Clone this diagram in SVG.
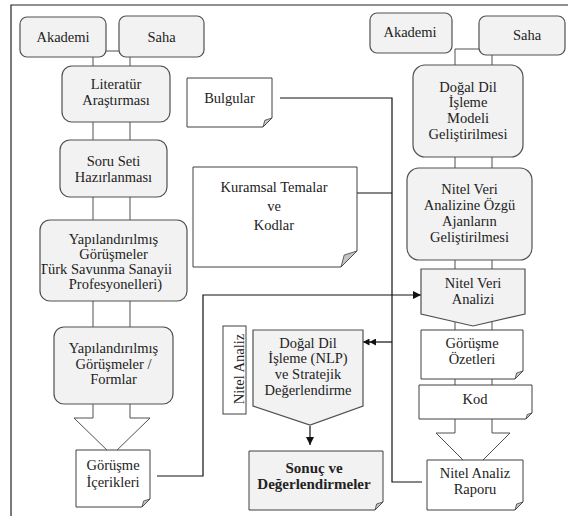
<svg xmlns="http://www.w3.org/2000/svg" width="568" height="516" viewBox="0 0 568 516">
  <defs>
    <style>
      .rb { fill: #f2f2f2; stroke: #505050; stroke-width: 1.2; }
      .doc { fill: #ffffff; stroke: #404040; stroke-width: 1; }
      .docg { fill: #f2f2f2; stroke: #404040; stroke-width: 1; }
      .fold { fill: #c4c4c4; stroke: #404040; stroke-width: 0.8; stroke-linejoin: round; }
      .blk { fill: #ffffff; stroke: #505050; stroke-width: 1; }
      .ln { fill: none; stroke: #111111; stroke-width: 1.2; }
      .frame { fill: none; stroke: #222222; stroke-width: 1.2; }
      text { font-size: 14.5px; fill: #222222; text-anchor: middle; }
      .b { font-weight: bold; font-size: 15px; }
    </style>
    <marker id="tri" viewBox="0 0 8 8" refX="8" refY="4" markerWidth="8" markerHeight="8" markerUnits="userSpaceOnUse" orient="auto">
      <path d="M0,0 L8,4 L0,8 Z" fill="#111111"/>
    </marker>
    <marker id="dbl" viewBox="0 0 13 7" refX="13" refY="3.5" markerWidth="13" markerHeight="7" markerUnits="userSpaceOnUse" orient="auto">
      <path d="M0,0 L6.5,3.5 L0,7 Z M6.5,0 L13,3.5 L6.5,7 Z" fill="#111111"/>
    </marker>
    <clipPath id="clipYapi">
      <rect x="41.5" y="221" width="144" height="79"/>
    </clipPath>
  </defs>

  <rect width="568" height="516" fill="#ffffff"/>
  <path class="frame" d="M11,520 V5 H570"/>

  <!-- connectors: block arrows behind the two columns, then flow lines -->
  <g id="connectors">
    <path class="blk" d="M93,51 H130 V418 H150 L112,455 L74,418 H93 Z"/>
    <path class="blk" d="M455,49 H492 V433 H510 L473,470 L436,433 H455 Z"/>
    <path class="ln" d="M157,476 H203 V295 H421" marker-end="url(#tri)"/>
    <path class="ln" d="M280,98 H392 V482 H422"/>
    <path class="ln" d="M357,193 H392"/>
    <path class="ln" d="M392,342 H363" marker-end="url(#dbl)"/>
    <path class="ln" d="M310,426 V445" marker-end="url(#tri)"/>
  </g>

  <g font-family="'Liberation Serif', 'DejaVu Serif', 'Times New Roman', serif">
  <!-- left column -->
  <g id="akademi-left">
    <rect class="rb" x="20" y="17" width="86" height="40" rx="7"/>
    <text x="63" y="42">Akademi</text>
  </g>
  <g id="saha-left">
    <rect class="rb" x="119" y="16" width="85" height="41" rx="7"/>
    <text x="161.5" y="42">Saha</text>
  </g>
  <g id="literatur">
    <rect class="rb" x="62" y="66" width="108" height="56" rx="10"/>
    <text x="116" y="89">Literatür</text>
    <text x="116" y="105">Araştırması</text>
  </g>
  <g id="soru-seti">
    <rect class="rb" x="60" y="140" width="107" height="57" rx="10"/>
    <text x="113.5" y="166">Soru Seti</text>
    <text x="113.5" y="182">Hazırlanması</text>
  </g>
  <g id="yapilandirilmis-gorusmeler">
    <rect class="rb" x="40" y="220" width="147" height="81" rx="10"/>
    <text x="113.5" y="244">Yapılandırılmış</text>
    <text x="113.5" y="259">Görüşmeler</text>
    <text x="172" y="274" style="text-anchor:end" clip-path="url(#clipYapi)">(Türk Savunma Sanayii</text>
    <text x="115.5" y="289">Profesyonelleri)</text>
  </g>
  <g id="gorusmeler-formlar">
    <rect class="rb" x="54" y="327" width="119" height="77" rx="10"/>
    <text x="113.5" y="353">Yapılandırılmış</text>
    <text x="113.5" y="369">Görüşmeler /</text>
    <text x="113.5" y="384">Formlar</text>
  </g>
  <g id="gorusme-icerikleri">
    <path class="doc" d="M76,450 H150 V499 L142,507 H76 Z"/>
    <path class="fold" d="M150,499 L142,507 L143.6,501 Z"/>
    <text x="113" y="470">Görüşme</text>
    <text x="113" y="487">İçerikleri</text>
  </g>

  <!-- middle -->
  <g id="bulgular">
    <path class="doc" d="M187,78 H272 V118 L263,127 H187 Z"/>
    <path class="fold" d="M272,118 L263,127 L264.8,120.3 Z"/>
    <text x="229.5" y="103">Bulgular</text>
  </g>
  <g id="kuramsal-temalar">
    <path class="doc" d="M193,167 H357 V251 L341,267 H193 Z"/>
    <path class="fold" d="M357,251 L341,267 L344.2,255 Z"/>
    <text x="274" y="192">Kuramsal Temalar</text>
    <text x="274" y="211">ve</text>
    <text x="274" y="230">Kodlar</text>
  </g>
  <g id="nitel-analiz-etiket">
    <rect x="223" y="326" width="23" height="88" fill="#ffffff" stroke="#404040" stroke-width="1"/>
    <text transform="translate(244,369) rotate(-90)">Nitel Analiz</text>
  </g>
  <g id="nlp-degerlendirme">
    <path class="rb" d="M253,330 H363 V406 L310,425 L253,406 Z"/>
    <text x="308" y="348">Doğal Dil</text>
    <text x="308" y="363">İşleme (NLP)</text>
    <text x="308" y="379">ve Stratejik</text>
    <text x="308" y="395">Değerlendirme</text>
  </g>
  <g id="sonuc">
    <path class="docg" d="M249,451 H383 V502 L375,510 H249 Z"/>
    <path class="fold" d="M383,502 L375,510 L376.6,504 Z"/>
    <text class="b" x="314" y="473">Sonuç ve</text>
    <text class="b" x="314" y="489">Değerlendirmeler</text>
  </g>

  <!-- right column -->
  <g id="akademi-right">
    <rect class="rb" x="370" y="13" width="82" height="40" rx="7"/>
    <text x="410" y="37">Akademi</text>
  </g>
  <g id="saha-right">
    <rect class="rb" x="479" y="16" width="86" height="39" rx="7"/>
    <text x="527" y="40">Saha</text>
  </g>
  <g id="dogal-dil-modeli">
    <rect class="rb" x="413" y="65" width="110" height="92" rx="12"/>
    <text x="468" y="92">Doğal Dil</text>
    <text x="468" y="107">İşleme</text>
    <text x="468" y="123">Modeli</text>
    <text x="468" y="139">Geliştirilmesi</text>
  </g>
  <g id="ajanlar">
    <rect class="rb" x="407" y="168" width="125" height="92" rx="12"/>
    <text x="469.5" y="194">Nitel Veri</text>
    <text x="469.5" y="210">Analizine Özgü</text>
    <text x="469.5" y="226">Ajanların</text>
    <text x="469.5" y="242">Geliştirilmesi</text>
  </g>
  <g id="nitel-veri-analizi">
    <path class="rb" d="M421,269 H525 V314 L473,326 L421,314 Z"/>
    <text x="473" y="288">Nitel Veri</text>
    <text x="473" y="304">Analizi</text>
  </g>
  <g id="gorusme-ozetleri">
    <path class="doc" d="M421,330 H523 V371 L515,379 H421 Z"/>
    <path class="fold" d="M523,371 L515,379 L516.6,373 Z"/>
    <text x="472" y="348">Görüşme</text>
    <text x="472" y="364">Özetleri</text>
  </g>
  <g id="kod">
    <path class="doc" d="M419,385 H532 V413 L526,419 H419 Z"/>
    <path class="fold" d="M532,413 L526,419 L527.2,414.5 Z"/>
    <text x="475" y="404">Kod</text>
  </g>
  <g id="nitel-analiz-raporu">
    <path class="doc" d="M427,460 H523 V502 L515,510 H427 Z"/>
    <path class="fold" d="M523,502 L515,510 L516.6,504 Z"/>
    <text x="475" y="478">Nitel Analiz</text>
    <text x="475" y="494">Raporu</text>
  </g>
  </g>
</svg>
